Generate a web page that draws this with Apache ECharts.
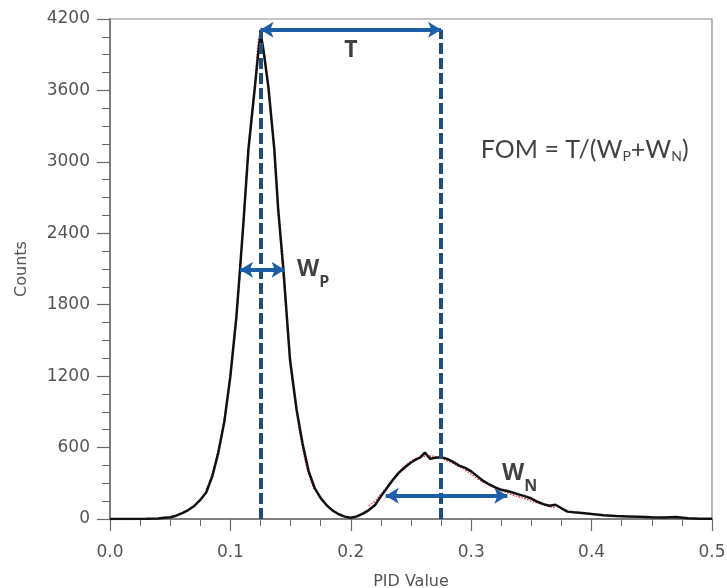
<!DOCTYPE html>
<html>
<head>
<meta charset="utf-8">
<script src="https://cdn.jsdelivr.net/npm/echarts@6/dist/echarts.min.js"></script>
<style>html,body{margin:0;padding:0;background:#fff}#c{width:727px;height:588px}</style>
</head>
<body>
<div id="c"></div>
<script>
// PID value (x) and counts (y) of the measured distribution (black curve)
const pidValues = [0, 0.01, 0.02, 0.03, 0.04, 0.045, 0.05, 0.055, 0.06, 0.065, 0.07, 0.075, 0.08, 0.085, 0.09, 0.095, 0.1, 0.105, 0.108, 0.111, 0.115, 0.1204, 0.1225, 0.125, 0.128, 0.1315, 0.1365, 0.1397, 0.144, 0.1495, 0.155, 0.16, 0.165, 0.17, 0.175, 0.18, 0.185, 0.19, 0.195, 0.2, 0.205, 0.21, 0.215, 0.22, 0.225, 0.23, 0.235, 0.24, 0.245, 0.25, 0.255, 0.2575, 0.2615, 0.266, 0.27, 0.275, 0.28, 0.285, 0.29, 0.295, 0.3, 0.305, 0.31, 0.315, 0.32, 0.325, 0.33, 0.335, 0.34, 0.345, 0.35, 0.355, 0.36, 0.365, 0.37, 0.375, 0.38, 0.385, 0.39, 0.4, 0.41, 0.42, 0.43, 0.44, 0.45, 0.46, 0.47, 0.48, 0.49, 0.5];
const counts = [0, 0, 0, 2, 5, 10, 15, 28, 50, 75, 110, 160, 225, 360, 560, 820, 1200, 1700, 2100, 2514, 3110, 3634, 3850, 4090, 3900, 3634, 3103, 2600, 2100, 1340, 918, 630, 400, 260, 175, 115, 70, 40, 20, 10, 22, 45, 75, 115, 190, 260, 330, 390, 435, 475, 505, 515, 557, 505, 515, 518, 505, 480, 448, 430, 400, 360, 320, 290, 265, 245, 235, 220, 205, 190, 172, 145, 125, 112, 120, 90, 62, 56, 52, 42, 32, 25, 22, 19, 15, 13, 17, 6, 3, 3];

// Fitted curves (red dotted)
const fit1X = [0.08, 0.085, 0.09, 0.095, 0.1, 0.105, 0.11, 0.115, 0.12, 0.125, 0.13, 0.135, 0.14, 0.145, 0.15, 0.155, 0.16, 0.165, 0.17];
const fit1Y = [250, 380, 580, 850, 1230, 1720, 2380, 3100, 3620, 4050, 3740, 3250, 2550, 1900, 1300, 900, 600, 380, 240];
const fit2X = [0.215, 0.22, 0.225, 0.23, 0.235, 0.24, 0.245, 0.25, 0.255, 0.26, 0.265, 0.27, 0.275, 0.28, 0.285, 0.29, 0.295, 0.3, 0.305, 0.31, 0.315, 0.32, 0.325, 0.33, 0.335, 0.34, 0.345, 0.35, 0.355, 0.36, 0.365, 0.37];
const fit2Y = [110, 150, 210, 270, 335, 395, 445, 485, 510, 525, 530, 525, 510, 490, 465, 440, 410, 375, 340, 310, 285, 260, 240, 220, 200, 185, 170, 150, 135, 120, 105, 95];

// Annotations
const peakLinesX = [0.125, 0.275];
const peakLineTop = 4110;
const tArrow = [[0.125, 4110], [0.275, 4110]];
const wpArrow = [[0.108, 2094], [0.145, 2094]];
const wnArrow = [[0.229, 196], [0.33, 196]];
const tLabelPos = [0.2, 3935];
const wpLabelPos = [0.1553, 2100];
const wnLabelPos = [0.3256, 385];
const fomLabelPos = [0.308, 3100];

const xTickLabels = ['0.0', '0.1', '0.2', '0.3', '0.4', '0.5'];

const axisGray = '#6a6a6a';
const tickFont = 'DejaVu Sans';
const annFont = 'Open Sans';
const fomFont = 'Lato';

const chart = echarts.init(document.getElementById('c'), null, {renderer: 'canvas'});
const option = {
  animation: false,
  backgroundColor: '#fff',
  grid: {left: 110, right: 15, top: 19, bottom: 69, show: true, borderColor: '#8a8a8a', borderWidth: 1.2,
    containLabel: false, outerBoundsMode: 'none'},
  xAxis: {
    type: 'value', min: 0, max: 0.5, interval: 0.1,
    name: 'PID Value', nameLocation: 'middle', nameGap: 55,
    nameTextStyle: {fontFamily: tickFont, fontSize: 16, color: '#555'},
    axisLine: {show: true, lineStyle: {color: axisGray, width: 1.5}},
    axisTick: {show: true, inside: false, length: 12, lineStyle: {color: axisGray, width: 1.2}},
    minorTick: {show: true, splitNumber: 4, length: 7, lineStyle: {color: axisGray, width: 1}},
    splitLine: {show: false},
    axisLabel: {fontFamily: tickFont, fontSize: 17, color: '#555', margin: 25,
      formatter: (v) => xTickLabels[Math.round(v * 10)]}
  },
  yAxis: {
    type: 'value', min: 0, max: 4200, interval: 600,
    name: 'Counts', nameLocation: 'middle', nameGap: 80,
    nameTextStyle: {fontFamily: tickFont, fontSize: 16, color: '#555'},
    axisLine: {show: true, lineStyle: {color: axisGray, width: 1.5}},
    axisTick: {show: true, inside: false, length: 13, lineStyle: {color: axisGray, width: 1.2}},
    minorTick: {show: true, splitNumber: 4, length: 8, lineStyle: {color: axisGray, width: 1}},
    splitLine: {show: false},
    axisLabel: {fontFamily: tickFont, fontSize: 17, color: '#555', margin: 20,
      formatter: (v) => String(v)}
  },
  series: [
    {
      type: 'line', name: 'fit1', data: fit1X.map((x, i) => [x, fit1Y[i]]),
      showSymbol: false, smooth: true, z: 2,
      lineStyle: {color: '#e8404a', width: 1.5, type: 'dotted'}
    },
    {
      type: 'line', name: 'fit2', data: fit2X.map((x, i) => [x, fit2Y[i]]),
      showSymbol: false, smooth: true, z: 2,
      lineStyle: {color: '#e8404a', width: 1.5, type: 'dotted'}
    },
    {
      type: 'line', name: 'data', data: pidValues.map((x, i) => [x, counts[i]]),
      showSymbol: false, z: 3,
      lineStyle: {color: '#111', width: 2.5}
    },
    {
      type: 'line', name: 'peaks', data: [], z: 4,
      markLine: {
        silent: true, symbol: ['none', 'none'], z: 4,
        label: {show: false},
        lineStyle: {color: '#1f4e79', width: 4, type: [11, 4]},
        data: peakLinesX.map(x => [{coord: [x, 0]}, {coord: [x, peakLineTop]}])
      }
    },
    {
      type: 'line', name: 'arrows', data: [], z: 5,
      markLine: {
        silent: true, symbol: ['arrow', 'arrow'], symbolSize: [12, 13], z: 5,
        label: {show: false},
        lineStyle: {color: '#1c5ea8', width: 4, type: 'solid'},
        data: [tArrow, wpArrow, wnArrow].map(a => [{coord: a[0]}, {coord: a[1]}])
      }
    },
    {
      type: 'scatter', name: 'labels', symbolSize: 0, z: 6,
      data: [
        {value: tLabelPos, label: {show: true, position: 'inside', formatter: '{b|T}'}},
        {value: wpLabelPos, label: {show: true, position: 'right', distance: 0, formatter: '{w|W}{s|P}'}},
        {value: wnLabelPos, label: {show: true, position: 'right', distance: 0, formatter: '{w|W}{s|N}'}},
        {value: fomLabelPos, label: {show: true, position: 'right', distance: 0, formatter: '{a|FOM = T/(W}{p|P}{a|+W}{p|N}{a|)}'}}
      ],
      label: {
        rich: {
          b: {fontFamily: annFont, fontWeight: 'bold', fontSize: 23, color: '#111'},
          w: {fontFamily: annFont, fontWeight: 'bold', fontSize: 23, color: '#111'},
          s: {fontFamily: annFont, fontWeight: 'bold', fontSize: 16, color: '#111', padding: [26, 0, 0, 0]},
          a: {fontFamily: fomFont, fontSize: 25, color: '#111'},
          p: {fontFamily: fomFont, fontSize: 14, color: '#111', padding: [14, 0, 0, 0]}
        }
      }
    }
  ]
};
chart.setOption(option);
</script>
</body>
</html>
